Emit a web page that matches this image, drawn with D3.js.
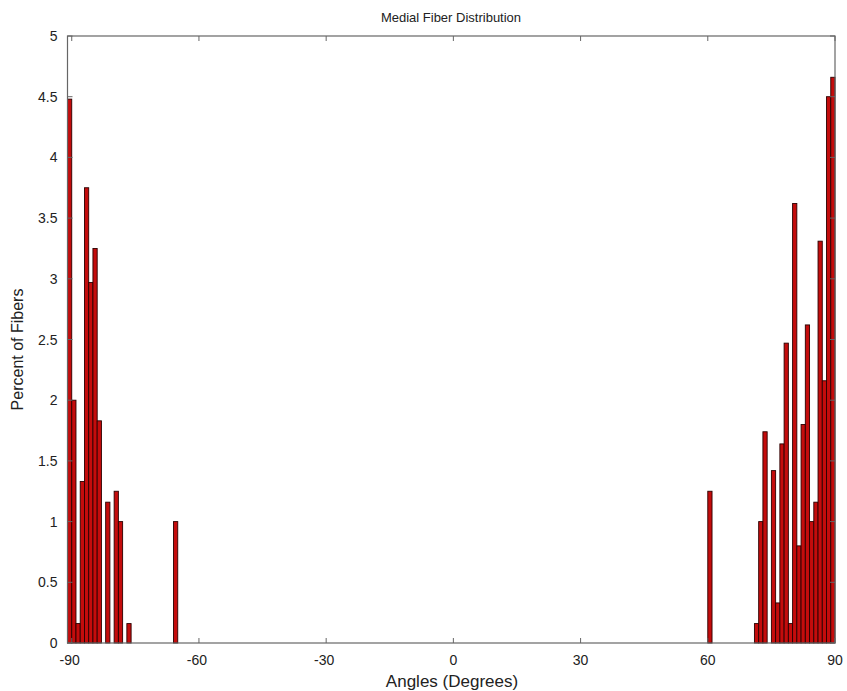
<!DOCTYPE html>
<html>
<head>
<meta charset="utf-8">
<script src="https://cdn.jsdelivr.net/npm/d3@7"></script>
<style>
  body { margin: 0; background: #fff; }
  text { font-family: "Liberation Sans", Arial, sans-serif; fill: #222; }
</style>
</head>
<body>
<svg id="chart" width="847" height="691"></svg>
<script>
// bin centres (degrees) and percent of fibers in each bin
const angles = [-90.5, -89.5, -88.5, -87.5, -86.5, -85.5, -84.5, -83.5, -81.5, -79.5, -78.5, -76.5, -65.5,
                60.5,
                71.5, 72.5, 73.5, 75.5, 76.5, 77.5, 78.5, 79.5, 80.5, 81.5, 82.5, 83.5, 84.5, 85.5, 86.5, 87.5, 88.5, 89.5];
const percents = [4.48, 2.0, 0.16, 1.33, 3.75, 2.97, 3.25, 1.83, 1.16, 1.25, 1.0, 0.16, 1.0,
                  1.25,
                  0.16, 1.0, 1.74, 1.42, 0.33, 1.64, 2.47, 0.16, 3.62, 0.8, 1.8, 2.62, 1.0, 1.16, 3.31, 2.16, 4.5, 4.66];
const xTicks = [-90, -60, -30, 0, 30, 60, 90];
const yTicks = [0, 0.5, 1, 1.5, 2, 2.5, 3, 3.5, 4, 4.5, 5];

const svg = d3.select("#chart");
const mLeft = 67.5, mRight = 835, mTop = 36, mBottom = 643;

const x = d3.scaleLinear().domain([-91, 90]).range([mLeft, mRight]);
const y = d3.scaleLinear().domain([0, 5]).range([mBottom, mTop]);

const bars = angles.map((a, i) => ({a: a, v: percents[i]}));

// bars, 1 degree wide
svg.append("g")
    .selectAll("rect")
    .data(bars)
    .enter().append("rect")
    .attr("x", d => x(d.a - 0.5))
    .attr("width", d => x(d.a + 0.5) - x(d.a - 0.5))
    .attr("y", d => y(d.v))
    .attr("height", d => y(0) - y(d.v))
    .attr("fill", "#c40c0c")
    .attr("stroke", "#2a0000")
    .attr("stroke-width", 0.9);

// box
svg.append("rect")
    .attr("x", mLeft).attr("y", mTop)
    .attr("width", mRight - mLeft).attr("height", mBottom - mTop)
    .attr("fill", "none")
    .attr("stroke", "#666")
    .attr("stroke-width", 1.2);

const tl = 5;
// x ticks (bottom and top, inward)
const xg = svg.append("g");
xTicks.forEach(t => {
    xg.append("line").attr("x1", x(t)).attr("x2", x(t)).attr("y1", mBottom).attr("y2", mBottom - tl).attr("stroke", "#666");
    xg.append("line").attr("x1", x(t)).attr("x2", x(t)).attr("y1", mTop).attr("y2", mTop + tl).attr("stroke", "#666");
    xg.append("text").attr("x", x(t) - (t < 0 ? 2 : 0)).attr("y", mBottom + 22)
        .attr("text-anchor", "middle").attr("font-size", 14).text(t);
});

// y ticks (left and right, inward)
const yg = svg.append("g");
yTicks.forEach(t => {
    yg.append("line").attr("x1", mLeft).attr("x2", mLeft + tl).attr("y1", y(t)).attr("y2", y(t)).attr("stroke", "#666");
    yg.append("line").attr("x1", mRight).attr("x2", mRight - tl).attr("y1", y(t)).attr("y2", y(t)).attr("stroke", "#666");
    yg.append("text").attr("x", mLeft - 10).attr("y", y(t) + 5)
        .attr("text-anchor", "end").attr("font-size", 14).text(t);
});

// titles
svg.append("text").attr("x", 451).attr("y", 22).attr("text-anchor", "middle")
    .attr("font-size", 13).text("Medial Fiber Distribution");
svg.append("text").attr("x", 452).attr("y", 687).attr("text-anchor", "middle")
    .attr("font-size", 17).text("Angles (Degrees)");
svg.append("text").attr("transform", "translate(23," + ((mTop + mBottom) / 2 + 10) + ") rotate(-90)")
    .attr("text-anchor", "middle").attr("font-size", 16).text("Percent of Fibers");
</script>
</body>
</html>
